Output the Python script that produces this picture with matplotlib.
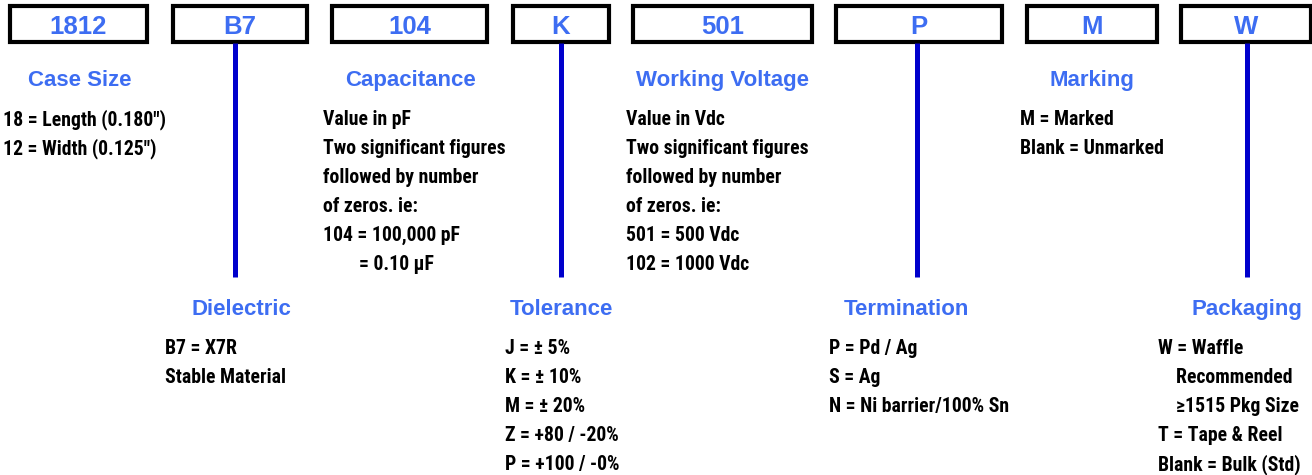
import matplotlib
matplotlib.use("Agg")
import matplotlib.pyplot as plt
from matplotlib.patches import Rectangle

# ---- data ----
codes = ["1812", "B7", "104", "K", "501", "P", "M", "W"]
headings = ["Case Size", "Dielectric", "Capacitance", "Tolerance",
            "Working Voltage", "Termination", "Marking", "Packaging"]
body_case = ["18 = Length (0.180\")", "12 = Width (0.125\")"]
body_diel = ["B7 = X7R", "Stable Material"]
body_cap = ["Value in pF", "Two significant figures", "followed by number",
            "of zeros. ie:", "104 = 100,000 pF", "        = 0.10 \u00b5F"]
body_tol = ["J = \u00b1 5%", "K = \u00b1 10%", "M = \u00b1 20%",
            "Z = +80 / -20%", "P = +100 / -0%"]
body_volt = ["Value in Vdc", "Two significant figures", "followed by number",
             "of zeros. ie:", "501 = 500 Vdc", "102 = 1000 Vdc"]
body_term = ["P = Pd / Ag", "S = Ag", "N = Ni barrier/100% Sn"]
body_mark = ["M = Marked", "Blank = Unmarked"]
body_pack = ["W = Waffle", "    Recommended", "    \u22651515 Pkg Size",
             "T = Tape & Reel", "Blank = Bulk (Std)"]
bodies = [body_case, body_diel, body_cap, body_tol,
          body_volt, body_term, body_mark, body_pack]

# ---- layout ----
W, H = 1312, 475
box_left = [10, 173, 332, 513, 633, 836, 1027, 1181]
box_right = [147, 307, 487, 609, 812, 1002, 1157, 1311]
box_top, box_bot = 6, 42
lower = [False, True, False, True, False, True, False, True]
line_x = {1: 235, 3: 561, 5: 917, 7: 1247}
line_bottom = 277
head_x = [80, 241, 410, 561, 723, 906, 1092, 1247]
head_base_up, head_base_low = 86, 315
body_x = [3, 165, 323, 505, 626, 829, 1020, 1158]
body_base_up, body_base_low, body_step = 125, 354, 29

blue_txt = "#3d6df2"
blue_line = "#0000cc"
bold_fam = ["Liberation Sans", "DejaVu Sans"]
narrow_fam = ["Roboto Condensed", "Liberation Sans", "DejaVu Sans"]

fig = plt.figure(figsize=(W / 100, H / 100), dpi=100)
ax = fig.add_axes([0, 0, 1, 1])
ax.set_xlim(0, W)
ax.set_ylim(H, 0)
ax.axis("off")

for i, code in enumerate(codes):
    l, r = box_left[i], box_right[i]
    ax.add_patch(Rectangle((l, box_top), r - l, box_bot - box_top,
                           fill=False, edgecolor="black", linewidth=3.0,
                           joinstyle="miter"))
    ax.text((l + r) / 2, 34, code, ha="center", va="baseline",
            fontsize=18.5, fontweight="bold", color=blue_txt, family=bold_fam)

for i, x in line_x.items():
    ax.plot([x, x], [box_bot + 1, line_bottom], color=blue_line,
            linewidth=3.6, solid_capstyle="butt")

for i, head in enumerate(headings):
    hb = head_base_low if lower[i] else head_base_up
    ax.text(head_x[i], hb, head, ha="center", va="baseline",
            fontsize=16, fontweight="bold", color=blue_txt, family=bold_fam)
    bb = body_base_low if lower[i] else body_base_up
    for j, line in enumerate(bodies[i]):
        ax.text(body_x[i], bb + j * body_step, line, ha="left",
                va="baseline", fontsize=14.2, fontweight="bold",
                color="black", family=narrow_fam)

fig.savefig("out.png", dpi=100)
